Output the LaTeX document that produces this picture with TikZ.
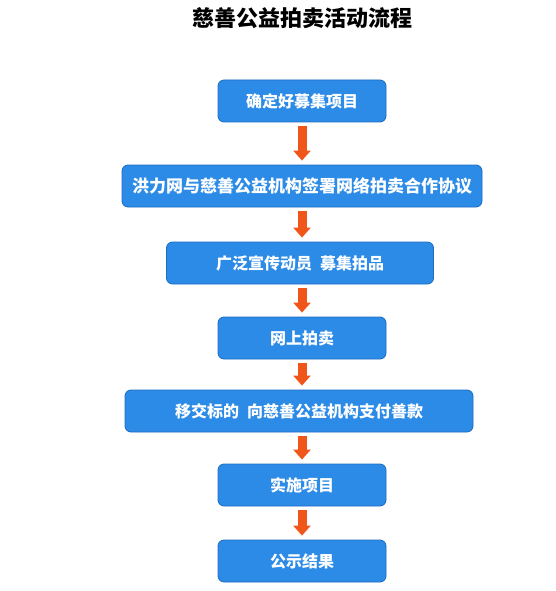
\documentclass[tikz,border=0pt]{standalone}
\usepackage{fontspec}
\setmainfont{Noto Sans CJK SC}
\usetikzlibrary{arrows.meta}
\definecolor{boxfill}{HTML}{2C8BE6}
\definecolor{boxline}{HTML}{1B6CC2}
\definecolor{arrowc}{HTML}{F0561A}
\tikzset{
  stepbox/.style={draw=boxline, line width=0.8pt, fill=boxfill, rounded corners=6pt,
    text=white, font=\bfseries\fontsize{16}{18}\selectfont, minimum height=42pt,
    inner sep=0pt, anchor=center},
  flowarrow/.style={draw=arrowc, line width=9pt, shorten <=4pt, shorten >=4pt,
    -{Triangle[width=17pt,length=10pt]}},
  titletext/.style={font=\bfseries\fontsize{22}{24}\selectfont, text=black}
}
\begin{document}
\begin{tikzpicture}[x=1pt,y=-1pt]
\useasboundingbox (0,0) rectangle (556,591);
\node[titletext] (title) at (302,18) {慈善公益拍卖活动流程};
\node[stepbox, minimum width=168pt] (b1) at (302,101) {确定好募集项目};
\node[stepbox, minimum width=360pt, font=\bfseries\fontsize{17}{19}\selectfont] (b2) at (302,186) {洪力网与慈善公益机构签署网络拍卖合作协议};
\node[stepbox, minimum width=267pt] (b3) at (300,263) {广泛宣传动员\hspace{0.5em}募集拍品};
\node[stepbox, minimum width=168pt] (b4) at (302,338) {网上拍卖};
\node[stepbox, minimum width=348pt] (b5) at (299,411) {移交标的\hspace{0.5em}向慈善公益机构支付善款};
\node[stepbox, minimum width=168pt] (b6) at (302,485) {实施项目};
\node[stepbox, minimum width=168pt] (b7) at (302,561) {公示结果};
\draw[flowarrow] (b1.south) -- (b1.south |- b2.north);
\draw[flowarrow] (b2.south) -- (b2.south |- b3.north);
\draw[flowarrow] (b2.south |- b3.south) -- (b2.south |- b4.north);
\draw[flowarrow] (b4.south) -- (b4.south |- b5.north);
\draw[flowarrow] (b4.south |- b5.south) -- (b4.south |- b6.north);
\draw[flowarrow] (b6.south) -- (b7.north);
\end{tikzpicture}
\end{document}
